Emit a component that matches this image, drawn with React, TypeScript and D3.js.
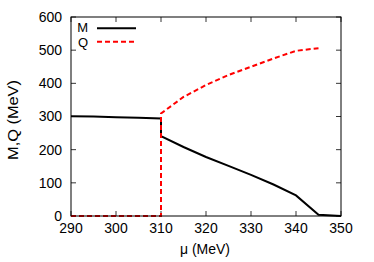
import React from 'react';
import * as d3 from 'd3';

// M(mu) curve, with the jump at 310
const muM = [290, 295, 300, 305, 310, 310, 315, 320, 325, 330, 335, 340, 345, 350];
const valM = [301, 300, 298, 296, 294, 241, 208, 178, 151, 124, 95, 62, 4, 0];

// Q(mu) curve
const muQ = [290, 300, 310, 310, 315, 320, 325, 330, 335, 340, 345];
const valQ = [0, 0, 0, 309, 359, 395, 425, 450, 475, 498, 506];

const xTicks = [290, 300, 310, 320, 330, 340, 350];
const yTicks = [0, 100, 200, 300, 400, 500, 600];

const W = 374;
const H = 262;
const margin = { left: 71, right: 33, top: 17, bottom: 46 };

export default function App() {
  const x = d3.scaleLinear().domain([290, 350]).range([margin.left, W - margin.right]);
  const y = d3.scaleLinear().domain([0, 600]).range([H - margin.bottom, margin.top]);

  const pathM = d3.line<number>().x((d) => x(d)).y((d, i) => y(valM[i]))(muM) || '';
  const pathQ = d3.line<number>().x((d) => x(d)).y((d, i) => y(valQ[i]))(muQ) || '';

  const x0 = margin.left;
  const x1 = W - margin.right;
  const y0 = H - margin.bottom;
  const y1 = margin.top;
  const tick = 5;
  const font = 'Liberation Sans, Arial, sans-serif';

  return (
    <svg
      width={W}
      height={H}
      style={{ position: 'fixed', left: 0, top: 0, background: '#fff' }}
      fontFamily={font}
    >
      {/* ticks, drawn inward on all sides */}
      {xTicks.map((t) => (
        <g key={'x' + t}>
          <line x1={x(t)} x2={x(t)} y1={y0} y2={y0 - tick} stroke="#000" strokeWidth={0.8} />
          <line x1={x(t)} x2={x(t)} y1={y1} y2={y1 + tick} stroke="#000" strokeWidth={0.8} />
          <text x={x(t)} y={233} textAnchor="middle" fontSize={14}>
            {t}
          </text>
        </g>
      ))}
      {yTicks.map((t) => (
        <g key={'y' + t}>
          <line x1={x0} x2={x0 + tick} y1={y(t)} y2={y(t)} stroke="#000" strokeWidth={0.8} />
          <line x1={x1} x2={x1 - tick} y1={y(t)} y2={y(t)} stroke="#000" strokeWidth={0.8} />
          <text x={62} y={y(t)} dy="0.35em" textAnchor="end" fontSize={14}>
            {t}
          </text>
        </g>
      ))}

      <path d={pathM} fill="none" stroke="#000" strokeWidth={2} />
      <path d={pathQ} fill="none" stroke="#ff0000" strokeWidth={2} strokeDasharray="5,3" />

      <rect x={x0} y={y1} width={x1 - x0} height={y0 - y1} fill="none" stroke="#000" strokeWidth={1} />

      {/* legend */}
      <text x={88} y={27.8} dy="0.35em" textAnchor="end" fontSize={13}>M</text>
      <line x1={97} x2={136} y1={28.3} y2={28.3} stroke="#000" strokeWidth={2} />
      <text x={88} y={42.4} dy="0.35em" textAnchor="end" fontSize={13}>Q</text>
      <line x1={97} x2={136} y1={41.7} y2={41.7} stroke="#ff0000" strokeWidth={2} strokeDasharray="5,3" />

      <text x={205} y={254} textAnchor="middle" fontSize={14}>μ (MeV)</text>
      <text
        transform="translate(18, 120) rotate(-90)"
        textAnchor="middle"
        fontSize={14}
        textLength={80}
        lengthAdjust="spacingAndGlyphs"
      >
        M,Q (MeV)
      </text>
    </svg>
  );
}
